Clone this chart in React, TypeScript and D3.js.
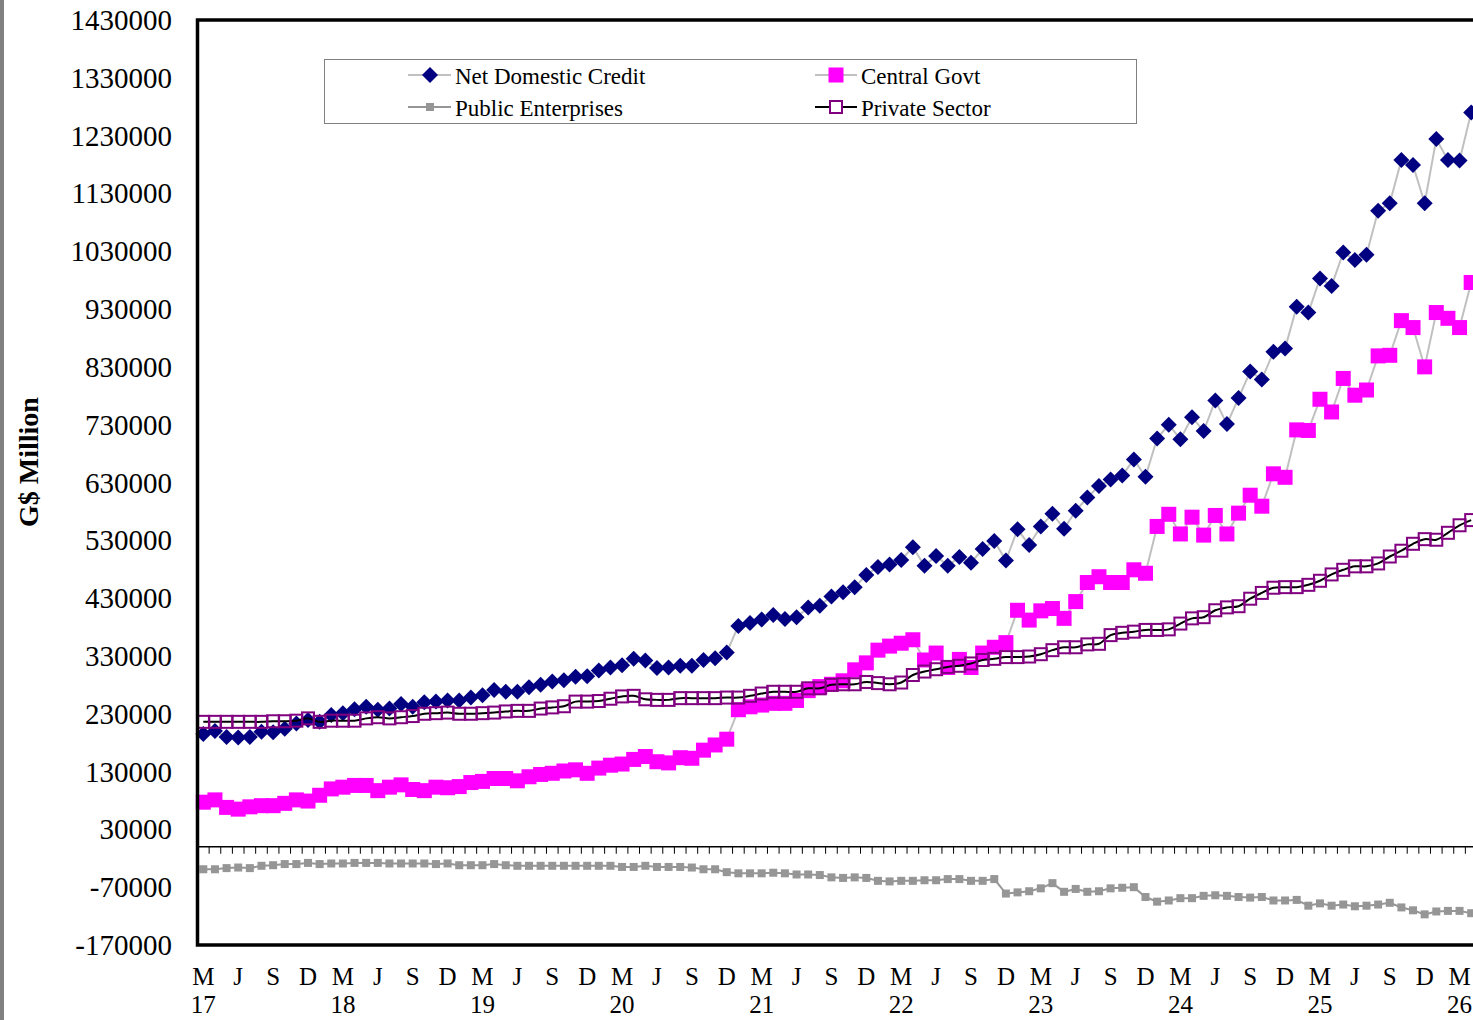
import * as d3 from 'd3'

// monthly, Mar 2017 .. Apr 2026
const months = d3.timeMonth.range(new Date(2017, 2, 1), new Date(2026, 4, 1))
const monthLetters: Record<number, string> = { 2: 'M', 5: 'J', 8: 'S', 11: 'D' }

const netDomesticCredit = [
  195000, 200000, 190000, 189000, 190000, 199000, 198000, 204000, 213000, 219000,
  216000, 228000, 231000, 238000, 242000, 237000, 239000, 247000, 242000, 250000,
  251000, 253000, 253000, 258000, 262000, 271000, 268000, 268000, 276000, 280000,
  286000, 288000, 294000, 295000, 305000, 310000, 314000, 325000, 322000, 309000,
  310000, 313000, 313000, 323000, 326000, 336000, 382000, 387000,
  393000, 401000, 394000, 397000, 414000, 417000, 433000, 440000, 449000, 470000,
  484000, 488000, 496000, 518000, 486000, 503000, 486000, 501000, 491000, 515000,
  529000, 495000, 549000, 522000, 554000, 576000, 550000, 581000, 604000, 624000,
  635000, 642000, 670000, 640000, 706000, 730000, 705000, 743000,
  719000, 772000, 731000, 776000, 822000, 808000, 856000, 862000, 934000, 924000,
  983000, 970000, 1028000, 1015000, 1024000, 1100000, 1113000, 1188000, 1179000, 1113000,
  1224000, 1188000, 1187000, 1270000,
]

const centralGovt = [
  77000, 81000, 68000, 65000, 69000, 71000, 71000, 75000, 81000, 79000,
  89000, 100000, 103000, 106000, 106000, 97000, 103000, 107000, 99000, 97000,
  103000, 102000, 104000, 111000, 113000, 118000, 118000, 114000, 121000, 125000,
  127000, 131000, 133000, 127000, 136000, 141000, 143000, 151000, 156000, 147000,
  145000, 154000, 153000, 167000, 176000, 186000, 237000, 242000,
  245000, 248000, 248000, 253000, 270000, 277000, 281000, 287000, 306000, 318000,
  340000, 347000, 352000, 358000, 323000, 335000, 310000, 324000, 310000, 335000,
  345000, 353000, 409000, 392000, 408000, 412000, 395000, 424000, 457000, 467000,
  457000, 457000, 479000, 473000, 554000, 575000, 541000, 570000,
  539000, 573000, 541000, 577000, 608000, 589000, 645000, 639000, 721000, 720000,
  774000, 752000, 810000, 781000, 790000, 849000, 850000, 910000, 898000, 830000,
  924000, 914000, 898000, 976000,
]

const publicEnterprises = [
  -39000, -39000, -37000, -36000, -37000, -33000, -32000, -30000, -30000, -28000,
  -30000, -29000, -29000, -28000, -28000, -28000, -29000, -29000, -29000, -29000,
  -30000, -29000, -32000, -32000, -32000, -30000, -32000, -33000, -33000, -33000,
  -33000, -33000, -33000, -33000, -33000, -33000, -35000, -35000, -33000, -35000,
  -35000, -35000, -36000, -39000, -39000, -44000, -46000, -46000,
  -46000, -45000, -46000, -48000, -48000, -49000, -53000, -54000, -53000, -54000,
  -59000, -60000, -59000, -59000, -58000, -58000, -56000, -56000, -59000, -59000,
  -56000, -81000, -79000, -77000, -72000, -63000, -78000, -73000, -78000, -77000,
  -72000, -71000, -70000, -87000, -95000, -93000, -89000, -89000,
  -85000, -84000, -85000, -87000, -88000, -87000, -93000, -93000, -92000, -102000,
  -98000, -102000, -100000, -103000, -102000, -100000, -97000, -105000, -110000, -117000,
  -112000, -111000, -111000, -115000,
]

const privateSector = [
  216000, 216000, 216000, 216000, 216000, 216000, 217000, 217000, 218000, 222000,
  216000, 218000, 218000, 218000, 222000, 224000, 222000, 224000, 226000, 230000,
  231000, 232000, 230000, 230000, 231000, 232000, 234000, 235000, 235000, 239000,
  241000, 243000, 251000, 251000, 252000, 256000, 260000, 261000, 255000, 254000,
  254000, 257000, 257000, 257000, 257000, 258000, 258000, 261000,
  265000, 268000, 268000, 268000, 274000, 274000, 280000, 281000, 281000, 285000,
  283000, 281000, 284000, 297000, 303000, 307000, 311000, 313000, 317000, 323000,
  325000, 328000, 328000, 329000, 333000, 340000, 345000, 345000, 350000, 351000,
  366000, 370000, 372000, 375000, 375000, 376000, 386000, 395000,
  397000, 409000, 414000, 416000, 429000, 439000, 448000, 449000, 449000, 453000,
  460000, 471000, 479000, 485000, 485000, 490000, 502000, 512000, 524000, 532000,
  531000, 543000, 556000, 565000,
]

const yTicks = d3.range(-170000, 1430001, 100000)

const W = 1473
const H = 1020
const plot = { left: 197.5, top: 20, right: 1477, bottom: 945 }
const serif = '"Liberation Serif", "Times New Roman", serif'

const x = d3.scaleBand<number>()
  .domain(d3.range(months.length))
  .range([plot.left, plot.right])
const y = d3.scaleLinear()
  .domain([-170000, 1430000])
  .range([plot.bottom, plot.top])
const cx = (i: number) => (x(i) as number) + x.bandwidth() / 2

const straight = d3.line<number>().x((_, i) => cx(i)).y(v => y(v))
const smooth = d3.line<number>().x((_, i) => cx(i)).y(v => y(v)).curve(d3.curveCatmullRom)

const diamond = (px: number, py: number, r: number) =>
  `M${px},${py - r}L${px + r},${py}L${px},${py + r}L${px - r},${py}Z`

export default function App() {
  const y0 = y(0)
  return (
    <div style={{ position: 'fixed', left: 0, top: 0, width: W, height: H, overflow: 'hidden', background: '#fff' }}>
      <svg width={W} height={H} style={{ display: 'block' }} fontFamily={serif}>
        <rect x={0} y={0} width={4} height={H} fill="#808080" />

        {/* y tick labels */}
        {yTicks.map(t => (
          <text key={t} x={172} y={y(t)} textAnchor="end" dominantBaseline="central" fontSize={29}>
            {t}
          </text>
        ))}
        <text
          transform={`translate(38,462) rotate(-90)`}
          textAnchor="middle"
          fontSize={28}
          fontWeight="bold"
        >
          G$ Million
        </text>

        {/* zero axis with month ticks */}
        <line x1={plot.left} x2={plot.right} y1={y0} y2={y0} stroke="#000" strokeWidth={1.5} />
        {months.slice(1).map((_, k) => (
          <line key={k} x1={x(k + 1)} x2={x(k + 1)} y1={y0} y2={y0 + 7} stroke="#000" strokeWidth={1} />
        ))}

        {/* Net Domestic Credit */}
        <path d={straight(netDomesticCredit) || ''} fill="none" stroke="#c0c0c0" strokeWidth={2} />
        {netDomesticCredit.map((v, i) => (
          <path key={i} d={diamond(cx(i), y(v), 8)} fill="#000080" />
        ))}

        {/* Central Govt */}
        <path d={straight(centralGovt) || ''} fill="none" stroke="#c0c0c0" strokeWidth={2} />
        {centralGovt.map((v, i) => (
          <rect key={i} x={cx(i) - 7.5} y={y(v) - 7.5} width={15} height={15} fill="#ff00ff" />
        ))}

        {/* Public Enterprises */}
        <path d={straight(publicEnterprises) || ''} fill="none" stroke="#969696" strokeWidth={2} />
        {publicEnterprises.map((v, i) => (
          <rect key={i} x={cx(i) - 4} y={y(v) - 4} width={8} height={8} fill="#969696" />
        ))}

        {/* Private Sector */}
        <path d={smooth(privateSector) || ''} fill="none" stroke="#000" strokeWidth={2} />
        {privateSector.map((v, i) => (
          <rect key={i} x={cx(i) - 6} y={y(v) - 6} width={12} height={12} fill="none" stroke="#800080" strokeWidth={2} />
        ))}

        {/* frame */}
        <rect
          x={plot.left}
          y={plot.top}
          width={plot.right - plot.left}
          height={plot.bottom - plot.top}
          fill="none"
          stroke="#000"
          strokeWidth={3.5}
        />

        {/* x labels */}
        {months.map((m, i) => {
          const letter = monthLetters[m.getMonth()]
          if (!letter) return null
          return (
            <g key={i}>
              <text x={cx(i)} y={985} textAnchor="middle" fontSize={25}>{letter}</text>
              {m.getMonth() === 2 && (
                <text x={cx(i)} y={1013} textAnchor="middle" fontSize={25}>
                  {String(m.getFullYear()).slice(2)}
                </text>
              )}
            </g>
          )
        })}

        {/* legend */}
        <rect x={324.5} y={59.5} width={812} height={64} fill="#fff" stroke="#808080" strokeWidth={1} />
        <g fontSize={23}>
          <line x1={408} x2={451} y1={75} y2={75} stroke="#c0c0c0" strokeWidth={2} />
          <path d={diamond(430, 75, 8)} fill="#000080" />
          <text x={455} y={76} dominantBaseline="central">Net Domestic Credit</text>

          <line x1={815} x2={857} y1={75} y2={75} stroke="#c0c0c0" strokeWidth={2} />
          <rect x={828.5} y={67.5} width={15} height={15} fill="#ff00ff" />
          <text x={861} y={76} dominantBaseline="central">Central Govt</text>

          <line x1={408} x2={451} y1={107} y2={107} stroke="#969696" strokeWidth={2} />
          <rect x={426} y={103} width={8} height={8} fill="#969696" />
          <text x={455} y={108} dominantBaseline="central">Public Enterprises</text>

          <line x1={815} x2={857} y1={107} y2={107} stroke="#000" strokeWidth={2} />
          <rect x={830} y={101} width={12} height={12} fill="#fff" stroke="#800080" strokeWidth={2} />
          <text x={861} y={108} dominantBaseline="central">Private Sector</text>
        </g>
      </svg>
    </div>
  )
}
